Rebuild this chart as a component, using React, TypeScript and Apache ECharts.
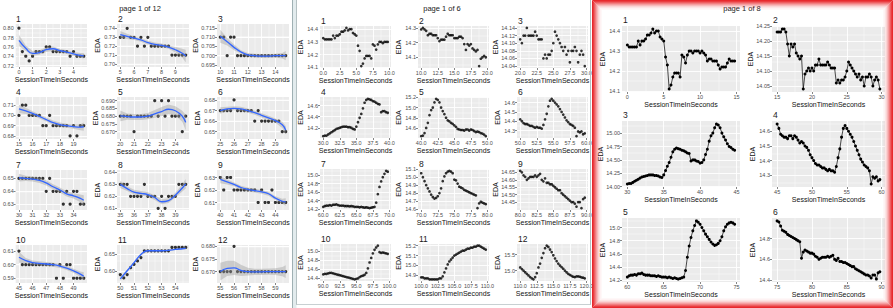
import { useEffect, useRef } from "react";
import * as echarts from "echarts";

const FONT = "'Liberation Sans', Arial, Helvetica, sans-serif";

// ================= DATA =================
// Page "1 of 12": 5-second windows, 0.25 s sampling
const leftStep = 0.25;
const leftWindow = 5;
const leftPoints: number[][] = [
  [0.80,0.75,0.74,0.73,0.74,0.75,0.75,0.75,0.76,0.76,0.75,0.75,0.75,0.75,0.75,0.74,0.75,0.74,0.74,0.74],
  [0.73,0.73,0.74,0.73,0.73,0.72,0.73,0.72,0.73,0.72,0.72,0.72,0.72,0.72,0.72,0.71,0.71,0.71,0.71,0.71],
  [0.71,0.71,0.70,0.71,0.71,0.70,0.70,0.70,0.70,0.70,0.70,0.70,0.70,0.70,0.70,0.70,0.70,0.70,0.70,0.70],
  [0.70,0.71,0.71,0.70,0.70,0.70,0.70,0.69,0.69,0.70,0.69,0.69,0.69,0.69,0.69,0.68,0.69,0.68,0.69,0.69],
  [0.68,0.68,0.68,0.68,0.67,0.68,0.68,0.68,0.68,0.68,0.69,0.68,0.69,0.68,0.69,0.68,0.68,0.68,0.67,0.68],
  [0.67,0.67,0.67,0.67,0.68,0.67,0.67,0.67,0.67,0.67,0.66,0.67,0.66,0.66,0.66,0.66,0.66,0.66,0.65,0.65],
  [0.65,0.65,0.65,0.65,0.65,0.65,0.65,0.65,0.64,0.65,0.64,0.64,0.64,0.63,0.64,0.63,0.64,0.64,0.63,0.63],
  [0.63,0.63,0.63,0.62,0.62,0.62,0.62,0.63,0.62,0.62,0.62,0.61,0.62,0.61,0.62,0.62,0.62,0.63,0.63,0.63],
  [0.63,0.62,0.63,0.63,0.62,0.62,0.62,0.62,0.62,0.62,0.62,0.61,0.62,0.61,0.61,0.62,0.61,0.61,0.61,0.61],
  [0.61,0.60,0.60,0.60,0.60,0.60,0.60,0.60,0.60,0.60,0.60,0.59,0.60,0.59,0.60,0.60,0.59,0.59,0.59,0.59],
  [0.59,0.58,0.59,0.61,0.62,0.63,0.64,0.66,0.66,0.66,0.66,0.66,0.66,0.66,0.66,0.67,0.67,0.67,0.67,0.67],
  [0.67,0.67,0.67,0.67,0.68,0.67,0.67,0.67,0.67,0.67,0.67,0.67,0.67,0.67,0.67,0.67,0.67,0.67,0.67,0.67],
];
// loess fit (read at these offsets within each window) and half-width of its band
const leftFitOffsets = [0, 0.5, 1, 1.5, 2, 2.5, 3, 3.5, 4, 4.5, 4.75];
const leftFit: number[][] = [
  [0.774,0.757,0.746,0.748,0.754,0.756,0.752,0.749,0.745,0.742,0.741],
  [0.733,0.731,0.729,0.727,0.724,0.722,0.721,0.719,0.716,0.712,0.709],
  [0.7105,0.7075,0.7045,0.702,0.7005,0.700,0.6998,0.6998,0.700,0.700,0.700],
  [0.7065,0.7045,0.702,0.699,0.696,0.693,0.691,0.690,0.689,0.6885,0.689],
  [0.6802,0.6798,0.6795,0.6795,0.680,0.6815,0.683,0.6845,0.6835,0.680,0.676],
  [0.670,0.6715,0.672,0.6715,0.670,0.668,0.6655,0.663,0.6605,0.6565,0.6515],
  [0.6505,0.650,0.6495,0.6485,0.6465,0.6435,0.641,0.638,0.6365,0.6345,0.633],
  [0.630,0.6265,0.6235,0.6225,0.6215,0.619,0.6155,0.6165,0.621,0.627,0.6305],
  [0.6285,0.6265,0.6245,0.622,0.6205,0.6195,0.6185,0.617,0.6135,0.611,0.6105],
  [0.6055,0.603,0.6015,0.601,0.6005,0.600,0.599,0.5975,0.5955,0.593,0.5915],
  [0.577,0.601,0.625,0.649,0.660,0.660,0.660,0.661,0.664,0.666,0.667],
  [0.670,0.6713,0.6715,0.6705,0.670,0.6699,0.6699,0.670,0.670,0.670,0.670],
];
const leftBandHalf: number[][] = [
  [0.012,0.006,0.005,0.005,0.005,0.005,0.004,0.004,0.004,0.005,0.006],
  [0.004,0.003,0.002,0.002,0.002,0.002,0.002,0.002,0.003,0.005,0.007],
  [0.0035,0.002,0.0015,0.001,0.001,0.001,0.001,0.001,0.001,0.0015,0.0025],
  [0.004,0.003,0.002,0.002,0.002,0.002,0.002,0.002,0.002,0.003,0.004],
  [0.0035,0.002,0.002,0.002,0.002,0.0025,0.003,0.003,0.003,0.0035,0.005],
  [0.003,0.002,0.002,0.002,0.002,0.002,0.002,0.002,0.002,0.003,0.004],
  [0.003,0.002,0.002,0.002,0.002,0.002,0.002,0.002,0.002,0.003,0.004],
  [0.003,0.002,0.002,0.002,0.002,0.002,0.002,0.002,0.002,0.003,0.004],
  [0.003,0.002,0.0015,0.0015,0.0015,0.0015,0.0015,0.0015,0.0015,0.002,0.003],
  [0.004,0.002,0.0015,0.0015,0.0015,0.0015,0.0015,0.0015,0.0015,0.002,0.003],
  [0.006,0.004,0.003,0.003,0.003,0.002,0.002,0.002,0.002,0.002,0.003],
  [0.0035,0.003,0.0028,0.0022,0.0015,0.0012,0.0012,0.0012,0.0013,0.0018,0.0025],
];
const leftYTicks: number[][] = [
  [0.72,0.74,0.76,0.78,0.80],[0.70,0.71,0.72,0.73,0.74],[0.695,0.700,0.705,0.710,0.715],
  [0.68,0.69,0.70,0.71],[0.670,0.675,0.680,0.685,0.690],[0.65,0.66,0.67,0.68],
  [0.63,0.64,0.65],[0.61,0.62,0.63,0.64],[0.61,0.62,0.63],
  [0.59,0.60,0.61],[0.60,0.65],[0.670,0.675,0.680],
];
const leftYRange: number[][] = [
  [0.717,0.809],[0.6966,0.7449],[0.6939,0.7171],[0.677,0.718],[0.6653,0.6924],[0.6431,0.6828],
  [0.6255,0.6565],[0.6086,0.642],[0.604,0.636],[0.5865,0.6145],[0.565,0.677],[0.6655,0.6805],
];
const leftXTickOffsets = [0, 1, 2, 3, 4];

// Second recording, 0.25 s sampling, 0 .. 120 s (shared by "page 1 of 6" and "page 1 of 8")
const edaStep = 0.25;
const eda: number[] = [
  14.33,14.32,14.32,14.32,14.32,14.32,14.35,14.33,14.35,14.35,14.36,14.38,14.38,14.39,14.41,14.39,14.40,14.40,14.37,14.36,
  14.35,14.27,14.23,14.11,14.13,14.17,14.19,14.19,14.19,14.17,14.28,14.27,14.24,14.28,14.30,14.30,14.29,14.30,14.30,14.30,
  14.29,14.30,14.29,14.28,14.25,14.26,14.26,14.25,14.25,14.25,14.23,14.21,14.22,14.22,14.22,14.24,14.26,14.25,14.25,14.25,
  14.23,14.23,14.23,14.24,14.24,14.23,14.19,14.15,14.19,14.18,14.19,14.16,14.15,14.14,14.15,14.04,14.09,14.10,14.11,14.10,
  14.11,14.10,14.12,14.12,14.14,14.12,14.12,14.12,14.12,14.13,14.12,14.11,14.11,14.11,14.06,14.07,14.06,14.07,14.07,14.08,
  14.10,14.13,14.12,14.11,14.10,14.09,14.08,14.09,14.07,14.08,14.05,14.08,14.08,14.09,14.08,14.05,14.07,14.08,14.07,14.04,
  14.05,14.06,14.06,14.08,14.10,14.12,14.14,14.16,14.18,14.19,14.20,14.21,14.22,14.22,14.22,14.21,14.21,14.20,14.18,14.17,
  14.22,14.30,14.38,14.45,14.55,14.65,14.70,14.72,14.71,14.70,14.68,14.67,14.65,14.63,14.62,14.48,14.50,14.50,14.48,14.47,
  14.44,14.45,14.50,14.60,14.70,14.85,14.95,15.00,15.10,15.17,15.15,15.10,15.00,14.93,14.87,14.80,14.75,14.73,14.70,14.68,
  14.65,14.62,14.58,14.57,14.56,14.56,14.55,14.57,14.57,14.55,14.57,14.56,14.54,14.52,14.53,14.52,14.50,14.49,14.47,14.44,
  14.42,14.40,14.38,14.37,14.37,14.36,14.35,14.35,14.34,14.33,14.34,14.33,14.33,14.32,14.36,14.42,14.48,14.56,14.62,14.64,
  14.62,14.60,14.58,14.56,14.53,14.50,14.47,14.44,14.41,14.39,14.37,14.36,14.35,14.33,14.24,14.29,14.28,14.29,14.26,14.27,
  14.25,14.27,14.28,14.28,14.29,14.28,14.30,14.30,14.31,14.29,14.28,14.28,14.28,14.27,14.27,14.27,14.26,14.27,14.26,14.25,
  14.25,14.25,14.24,14.25,14.24,14.23,14.24,14.23,14.22,14.23,14.24,14.25,14.35,14.55,14.72,14.85,14.95,15.03,15.10,15.08,
  15.05,15.00,14.95,14.90,14.86,14.82,14.78,14.75,14.73,14.74,14.76,14.80,14.86,14.95,15.01,15.05,15.07,15.08,15.07,15.05,
  14.97,14.96,14.92,14.88,14.87,14.86,14.84,14.83,14.82,14.81,14.80,14.79,14.78,14.77,14.61,14.67,14.69,14.68,14.67,14.66,
  14.66,14.65,14.63,14.62,14.60,14.61,14.62,14.62,14.62,14.63,14.62,14.63,14.64,14.60,14.59,14.61,14.58,14.58,14.57,14.57,
  14.56,14.55,14.54,14.53,14.53,14.51,14.50,14.49,14.48,14.47,14.46,14.45,14.45,14.44,14.42,14.45,14.45,14.41,14.47,14.48,
  14.49,14.50,14.50,14.51,14.52,14.52,14.51,14.50,14.49,14.48,14.47,14.46,14.45,14.44,14.43,14.42,14.41,14.40,14.39,14.38,
  14.39,14.40,14.43,14.45,14.46,14.48,14.52,14.62,14.75,14.85,14.95,15.03,15.08,15.12,14.98,14.96,14.97,14.96,14.95,14.94,
  14.88,14.88,14.87,14.87,14.87,14.86,14.86,14.86,14.86,14.86,14.86,14.87,14.87,14.89,14.93,14.97,15.01,15.04,15.06,15.08,
  15.10,15.11,15.12,15.13,15.14,15.15,15.15,15.16,15.17,15.17,15.18,15.18,15.19,15.19,15.20,15.20,15.19,15.18,15.17,15.16,
  15.10,15.05,15.00,14.95,14.90,14.85,14.80,14.76,14.73,14.80,14.92,15.10,15.22,15.40,15.55,15.70,15.78,15.74,15.66,15.58,
  15.48,15.38,15.30,15.22,15.16,15.11,15.06,15.00,14.95,14.90,14.87,14.84,14.81,14.80,14.82,14.82,14.81,14.79,14.78,14.76,
];
const midWindow = 10;
const midXTickOffsets = [0, 2.5, 5, 7.5, 10];
const midYTicks: number[][] = [
  [14.1,14.2,14.3,14.4],[14.1,14.2,14.3],[14.04,14.06,14.08,14.10,14.12,14.14],
  [14.2,14.4,14.6],[14.4,14.6,14.8,15.0,15.2],[14.3,14.4,14.5,14.6],
  [14.2,14.4,14.6,14.8,15.0],[14.6,14.7,14.8,14.9,15.0,15.1],[14.45,14.50,14.55,14.60,14.65],
  [14.4,14.6,14.8,15.0],[14.9,15.0,15.1,15.2],[15.0,15.5],
];
const rightWindow = 15;
const rightXTickOffsets = [0, 5, 10, 15];
const rightYTicks: number[][] = [
  [14.1,14.2,14.3,14.4],[14.05,14.10,14.15,14.20,14.25],[14.00,14.25,14.50,14.75,15.00],
  [14.3,14.4,14.5,14.6],[14.2,14.4,14.6,14.8,15.0],[14.4,14.6,14.8],
];
const pageTitles = ["page 1 of 12", "page 1 of 6", "page 1 of 8"];

// ================= LAYOUT =================
const W = 893, H = 308;
const TICK_FS = 5.5;
const leftCols = [15, 117, 217], leftW = 72;
const leftRows = [24, 97, 170, 245], leftH = [43, 42, 40, 38];
const midCols = [320, 418, 517], midW = 71;
const midRows = [26, 97, 169, 244], midH = [42, 41, 41, 37];
const rightCols = [622, 772], rightW = [118, 113];
const rightRows = [26, 121, 218], rightH = [66, 66, 64];

function decimals(vals: number[]): number {
  let d = 0;
  for (const v of vals) {
    const s = String(+v.toFixed(6));
    const i = s.indexOf(".");
    if (i >= 0) d = Math.max(d, s.length - i - 1);
  }
  return d;
}
function labelWidth(vals: number[], d: number, fs: number): number {
  let w = 0;
  for (const v of vals) {
    const s = v.toFixed(d);
    let t = 0;
    for (const ch of s) t += ch === "." ? 0.278 : 0.556;
    w = Math.max(w, t * fs);
  }
  return w;
}
function gridVals(ticks: number[], lo: number, hi: number) {
  const major = ticks.filter((v) => v >= lo && v <= hi);
  const minor: number[] = [];
  if (ticks.length >= 2) {
    const step = ticks[1] - ticks[0];
    for (let i = -1; i < ticks.length; i++) {
      const m = ticks[0] + (i + 0.5) * step;
      if (m >= lo && m <= hi) minor.push(m);
    }
  }
  return { major, minor };
}

type Rect = { left: number; top: number; width: number; height: number };
type Spec = {
  label: string;
  rect: Rect;
  xs: number[];
  ys: number[];
  xTicks: number[];
  yTicks: number[];
  yRange?: number[];
  mode: "scatter" | "line";
  symbolSize: number;
  fit?: { xs: number[]; ys: number[]; half: number[] };
  labelDy: number;
};

function buildOption() {
  const grids: any[] = [];
  const xAxes: any[] = [];
  const yAxes: any[] = [];
  const series: any[] = [];
  const graphics: any[] = [];

  const addFacet = (s: Spec) => {
    const gi = grids.length;
    const { rect } = s;
    grids.push({ ...rect, show: true, backgroundColor: "#EBEBEB", borderWidth: 0, containLabel: false });
    const x0 = Math.min(...s.xs), x1 = Math.max(...s.xs);
    const xpad = (x1 - x0) * 0.05;
    const xlo = x0 - xpad, xhi = x1 + xpad;
    let ylo: number, yhi: number;
    if (s.yRange) {
      ylo = s.yRange[0];
      yhi = s.yRange[1];
    } else {
      const y0 = Math.min(...s.ys), y1 = Math.max(...s.ys);
      const ypad = (y1 - y0) * 0.05;
      ylo = y0 - ypad;
      yhi = y1 + ypad;
    }
    const xg = gridVals(s.xTicks, xlo, xhi);
    const yg = gridVals(s.yTicks, ylo, yhi);
    const xd = decimals(s.xTicks);
    const yd = decimals(s.yTicks);
    const yNameOffset = 12 + labelWidth(yg.major, yd, TICK_FS) * 0.7;

    xAxes.push({
      gridIndex: gi, type: "value", min: xlo, max: xhi,
      axisLine: { show: false },
      axisTick: { show: true, length: 2, lineStyle: { color: "#333333", width: 0.6 }, customValues: xg.major },
      axisLabel: { show: true, customValues: xg.major, formatter: (v: number) => v.toFixed(xd), fontSize: TICK_FS, color: "#4D4D4D", margin: 2, fontFamily: FONT },
      splitLine: { show: false },
      name: "SessionTimeInSeconds", nameLocation: "middle", nameGap: 8,
      nameTextStyle: { fontSize: 7, color: "#111", fontFamily: FONT },
    });
    yAxes.push({
      gridIndex: gi, type: "value", min: ylo, max: yhi,
      axisLine: { show: false },
      axisTick: { show: true, length: 2, lineStyle: { color: "#333333", width: 0.6 }, customValues: yg.major },
      axisLabel: { show: true, customValues: yg.major, formatter: (v: number) => v.toFixed(yd), fontSize: TICK_FS, color: "#4D4D4D", margin: 2, fontFamily: FONT },
      splitLine: { show: false },
    });

    // y axis title, rotated
    graphics.push({
      type: "text", x: rect.left - yNameOffset, y: rect.top + rect.height / 2, rotation: Math.PI / 2, silent: true, z: 50,
      style: { text: "EDA", fontSize: 7, fontFamily: FONT, fill: "#111", align: "center", verticalAlign: "middle" },
    });

    // panel grid lines (ggplot-style major + minor), drawn under the marks
    const mk: any[] = [];
    yg.major.forEach((v) => mk.push({ yAxis: v, lineStyle: { width: 0.9 } }));
    yg.minor.forEach((v) => mk.push({ yAxis: v, lineStyle: { width: 0.45 } }));
    xg.major.forEach((v) => mk.push({ xAxis: v, lineStyle: { width: 0.9 } }));
    xg.minor.forEach((v) => mk.push({ xAxis: v, lineStyle: { width: 0.45 } }));
    series.push({
      type: "line", xAxisIndex: gi, yAxisIndex: gi, data: [[xlo, ylo]], showSymbol: false, silent: true,
      lineStyle: { opacity: 0 }, z: 1,
      markLine: {
        z: 1, silent: true, symbol: ["none", "none"], label: { show: false },
        lineStyle: { color: "#FFFFFF", type: "solid", width: 0.9 },
        emphasis: { disabled: true },
        data: mk,
      },
    });

    if (s.fit) {
      const f = s.fit;
      series.push({
        type: "custom", xAxisIndex: gi, yAxisIndex: gi, silent: true, z: 4, clip: true,
        data: f.xs.map((x, i) => [x, f.ys[i] - f.half[i], f.ys[i] + f.half[i]]),
        encode: { x: 0, y: [1, 2] },
        renderItem: (params: any, api: any) => {
          if (params.dataIndex !== 0) return null;
          const up = f.xs.map((x, i) => api.coord([x, f.ys[i] + f.half[i]]));
          const dn = f.xs.map((x, i) => api.coord([x, f.ys[i] - f.half[i]])).reverse();
          return {
            type: "polygon",
            shape: { points: up.concat(dn) },
            style: { fill: "rgba(153,153,153,0.4)", stroke: "none" },
          };
        },
      });
    }

    const pts = s.xs.map((x, i) => [x, s.ys[i]]);
    if (s.mode === "scatter") {
      series.push({
        type: "scatter", xAxisIndex: gi, yAxisIndex: gi, data: pts, symbolSize: s.symbolSize,
        itemStyle: { color: "#000000" }, silent: true, z: 3,
      });
    } else {
      series.push({
        type: "line", xAxisIndex: gi, yAxisIndex: gi, data: pts, symbol: "circle", symbolSize: s.symbolSize,
        showSymbol: true, showAllSymbol: true, itemStyle: { color: "#000000" },
        lineStyle: { color: "#000000", width: 0.7 }, silent: true, z: 3,
      });
    }

    if (s.fit) {
      const f = s.fit;
      series.push({
        type: "line", xAxisIndex: gi, yAxisIndex: gi, smooth: true, showSymbol: false, silent: true,
        data: f.xs.map((x, i) => [x, f.ys[i]]), lineStyle: { color: "#3366FF", width: 1.3 }, z: 5,
      });
    }

    graphics.push({
      type: "text", x: rect.left + 1, y: rect.top + s.labelDy, silent: true, z: 50,
      style: { text: s.label, fontSize: 8.5, fontFamily: FONT, fill: "#1A1A1A", align: "left", verticalAlign: "middle" },
    });
  };

  // ---- page 1 of 12 ----
  leftPoints.forEach((vals, k) => {
    const start = k * leftWindow;
    const r = Math.floor(k / 3), c = k % 3;
    addFacet({
      label: String(k + 1),
      rect: { left: leftCols[c], top: leftRows[r], width: leftW, height: leftH[r] },
      xs: vals.map((_, i) => start + i * leftStep),
      ys: vals,
      xTicks: leftXTickOffsets.map((o) => start + o),
      yTicks: leftYTicks[k],
      yRange: leftYRange[k],
      mode: "scatter",
      symbolSize: 3.2,
      fit: { xs: leftFitOffsets.map((o) => start + o), ys: leftFit[k], half: leftBandHalf[k] },
      labelDy: -5,
    });
  });

  // ---- page 1 of 6 ----
  const perMid = midWindow / edaStep;
  for (let k = 0; k < 12; k++) {
    const vals = eda.slice(k * perMid, (k + 1) * perMid);
    const start = k * midWindow;
    const r = Math.floor(k / 3), c = k % 3;
    addFacet({
      label: String(k + 1),
      rect: { left: midCols[c], top: midRows[r], width: midW, height: midH[r] },
      xs: vals.map((_, i) => start + i * edaStep),
      ys: vals,
      xTicks: midXTickOffsets.map((o) => start + o),
      yTicks: midYTicks[k],
      mode: "scatter",
      symbolSize: 2.7,
      labelDy: -5.5,
    });
  }

  // ---- page 1 of 8 ----
  const perRight = rightWindow / edaStep;
  for (let k = 0; k < 6; k++) {
    const vals = eda.slice(k * perRight, (k + 1) * perRight);
    const start = k * rightWindow;
    const r = Math.floor(k / 2), c = k % 2;
    addFacet({
      label: String(k + 1),
      rect: { left: rightCols[c], top: rightRows[r], width: rightW[c], height: rightH[r] },
      xs: vals.map((_, i) => start + i * edaStep),
      ys: vals,
      xTicks: rightXTickOffsets.map((o) => start + o),
      yTicks: rightYTicks[k],
      mode: "line",
      symbolSize: 3,
      labelDy: -6,
    });
  }

  // page titles
  const titleX = [140, 442, 742];
  pageTitles.forEach((t, i) =>
    graphics.push({
      type: "text", x: titleX[i], y: 8, silent: true, z: 50,
      style: { text: t, fontSize: 7.5, fontFamily: FONT, fill: "#1A1A1A", align: "center", verticalAlign: "middle" },
    })
  );

  // window frames / dividers
  graphics.push({ type: "rect", silent: true, z: 40, shape: { x: 293, y: 0, width: 3.5, height: H }, style: { fill: "#E2EBED" } });
  graphics.push({ type: "line", silent: true, z: 41, shape: { x1: 292.5, y1: 0, x2: 292.5, y2: H }, style: { stroke: "#9FB0B3", lineWidth: 1 } });
  graphics.push({ type: "line", silent: true, z: 41, shape: { x1: 296.5, y1: 0, x2: 296.5, y2: 305 }, style: { stroke: "#B4C0C2", lineWidth: 1 } });
  graphics.push({ type: "line", silent: true, z: 41, shape: { x1: 590.5, y1: 0, x2: 590.5, y2: 305 }, style: { stroke: "#B4C0C2", lineWidth: 1 } });
  graphics.push({ type: "line", silent: true, z: 41, shape: { x1: 296.5, y1: 304.5, x2: 590.5, y2: 304.5 }, style: { stroke: "#C8D0D2", lineWidth: 1 } });

  // red glow around the third window
  const glow = [1, 0.9, 0.75, 0.6, 0.45, 0.32, 0.2, 0.12, 0.06, 0.03];
  glow.forEach((a, i) =>
    graphics.push({
      type: "rect", silent: true, z: 100,
      shape: { x: 592 + i + 0.5, y: i + 0.5, width: 301 - 2 * i - 1, height: H - 2 * i - 1 },
      style: { fill: "none", stroke: `rgba(232,40,44,${a})`, lineWidth: 1 },
    })
  );

  return {
    animation: false,
    backgroundColor: "#FFFFFF",
    textStyle: { fontFamily: FONT },
    grid: grids,
    xAxis: xAxes,
    yAxis: yAxes,
    series,
    graphic: graphics,
  };
}

export default function App() {
  const ref = useRef<HTMLDivElement>(null);
  useEffect(() => {
    if (!ref.current) return;
    const chart = echarts.init(ref.current, null, { renderer: "svg", width: W, height: H });
    chart.setOption(buildOption() as any);
    return () => chart.dispose();
  }, []);
  return <div ref={ref} style={{ position: "absolute", left: 0, top: 0, width: W, height: H }} />;
}
